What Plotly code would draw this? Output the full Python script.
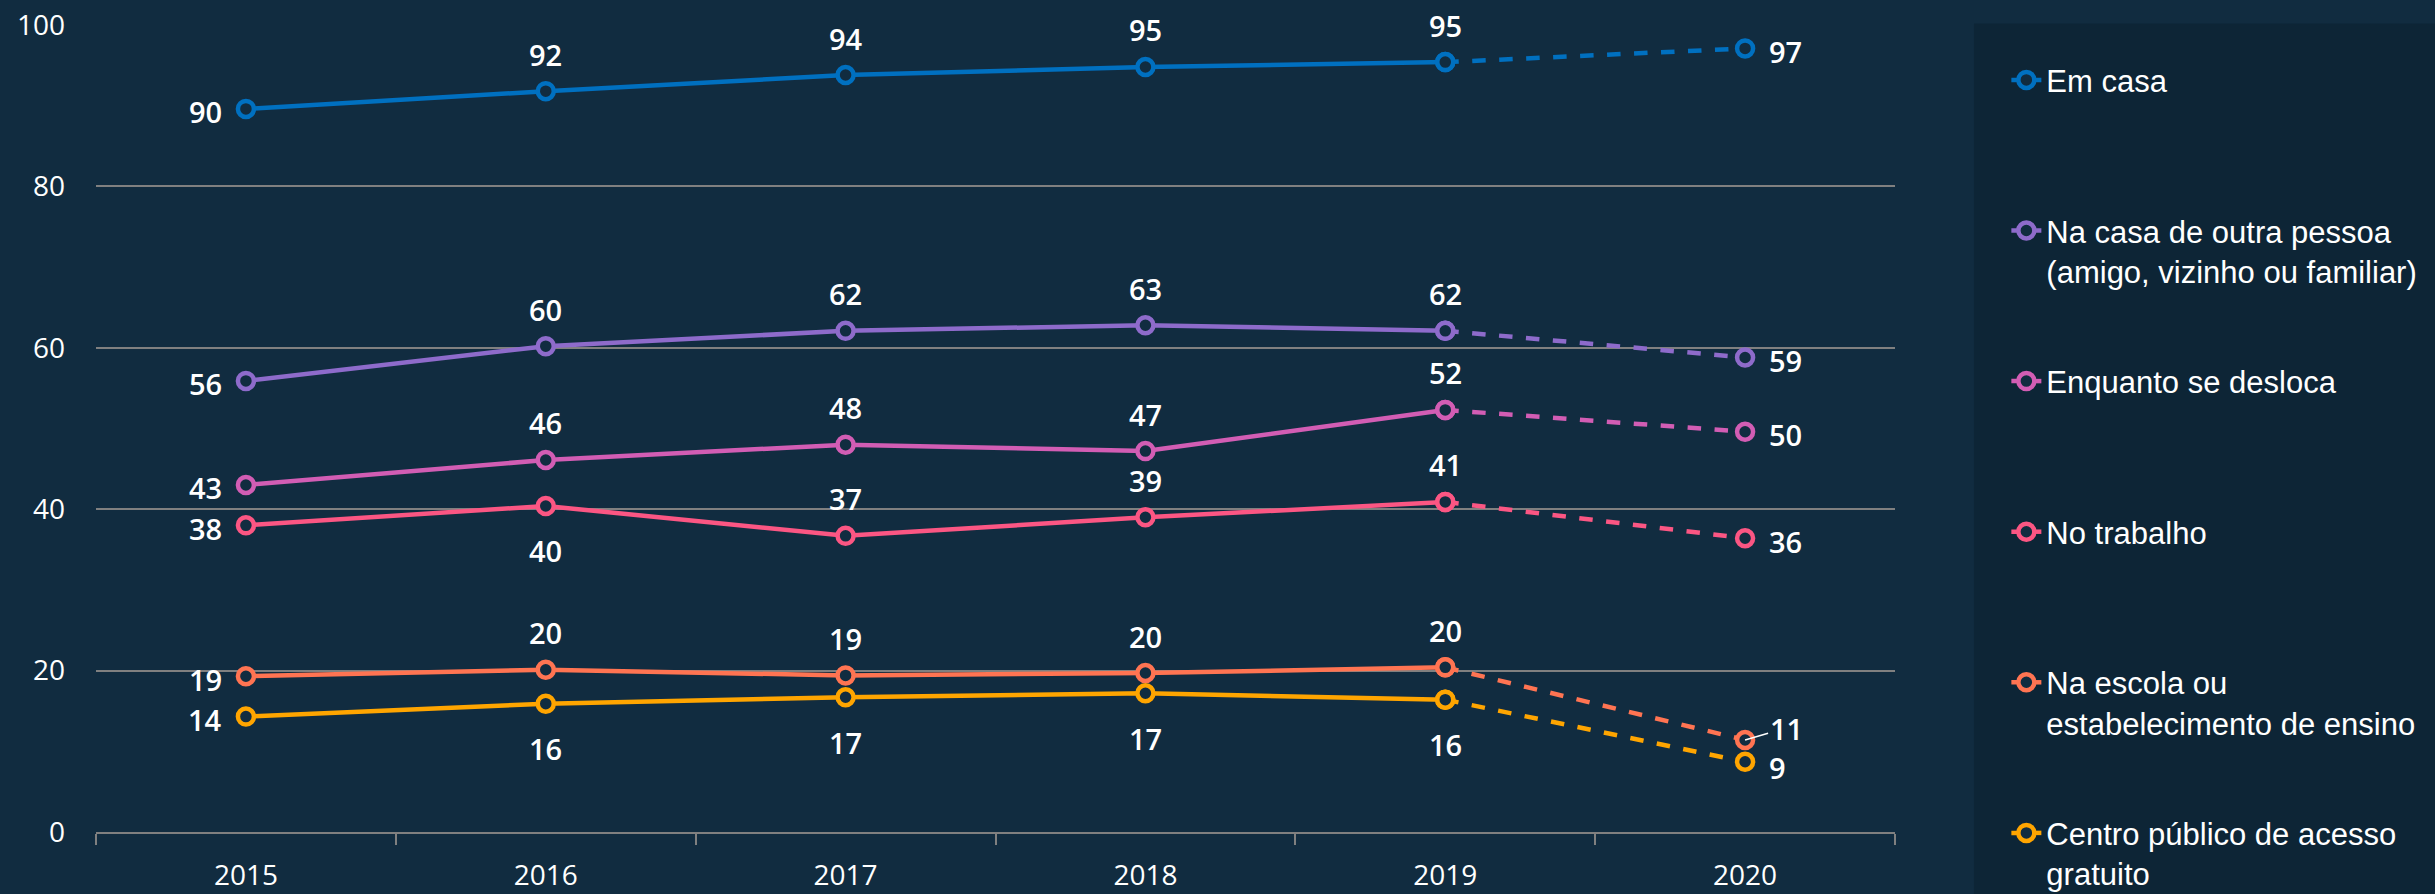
import plotly.graph_objects as go

# ---------------- data ----------------
years = ["2015", "2016", "2017", "2018", "2019", "2020"]

em_casa = [89.6, 91.8, 93.8, 94.8, 95.4, 97.1]
outra_pessoa = [55.9, 60.2, 62.1, 62.8, 62.1, 58.8]
enquanto_desloca = [43.0, 46.1, 48.0, 47.2, 52.3, 49.6]
no_trabalho = [38.0, 40.4, 36.7, 39.0, 40.9, 36.4]
na_escola = [19.3, 20.1, 19.4, 19.7, 20.4, 11.4]
centro_publico = [14.3, 15.9, 16.7, 17.2, 16.4, 8.7]

series_names = [
    "Em casa",
    "Na casa de outra pessoa<br>(amigo, vizinho ou familiar)",
    "Enquanto se desloca",
    "No trabalho",
    "Na escola ou<br>estabelecimento de ensino",
    "Centro público de acesso<br>gratuito",
]
series_values = [em_casa, outra_pessoa, enquanto_desloca, no_trabalho, na_escola, centro_publico]
y_ticks = [0, 20, 40, 60, 80, 100]

# ---------------- style ----------------
colors = ["#0070C0", "#8E6BCB", "#D25DB4", "#FB5683", "#FF7452", "#FFA500"]
label_pos = [
    ["left", "top", "top", "top", "top", "right"],
    ["left", "top", "top", "top", "top", "right"],
    ["left", "top", "top", "top", "top", "right"],
    ["left", "bottom", "top", "top", "top", "right"],
    ["left", "top", "top", "top", "top", "right_leader"],
    ["left", "bottom", "bottom", "bottom", "bottom", "right_low"],
]
BG = "#112c40"
GRID = "#808080"
TXT = "white"
NUM_FONT = "Open Sans, Noto Sans, sans-serif"
LEG_FONT = "Liberation Sans, Arial, sans-serif"

fig = go.Figure()

for i, (name, vals, col) in enumerate(zip(series_names, series_values, colors)):
    legend_name = name if "<br>" in name else name + "<br> "
    marker = dict(size=16, color=BG, line=dict(color=col, width=4.5))
    # solid part (2015-2019)
    fig.add_trace(go.Scatter(
        x=years[:5], y=vals[:5], mode="lines+markers", name=legend_name,
        legendgroup=f"g{i}", line=dict(color=col, width=4.5), marker=marker,
        hoverinfo="skip"))
    # dashed part (2019-2020)
    fig.add_trace(go.Scatter(
        x=years[4:], y=vals[4:], mode="lines+markers", showlegend=False,
        legendgroup=f"g{i}", line=dict(color=col, width=4.5, dash="dash"), marker=marker,
        hoverinfo="skip"))

annotations = []
for vals, poss in zip(series_values, label_pos):
    for xi, (v, p) in enumerate(zip(vals, poss)):
        a = dict(x=xi, y=v, xref="x", yref="y", text=f"{v:.0f}", showarrow=False,
                 font=dict(family=NUM_FONT, size=29, color=TXT, weight=600))
        if p == "top":
            a.update(yshift=37)
        elif p == "bottom":
            a.update(yshift=-45)
        elif p == "left":
            a.update(xanchor="right", xshift=-22, yshift=-3)
        elif p == "right":
            a.update(xanchor="left", xshift=22, yshift=-3)
        elif p == "right_low":
            a.update(xanchor="left", xshift=22, yshift=-6)
        elif p == "right_leader":
            a.update(showarrow=True, axref="pixel", ayref="pixel", ax=41, ay=-12,
                     arrowhead=0, arrowwidth=1.5, arrowcolor=TXT, standoff=0)
        annotations.append(a)

fig.update_layout(
    width=2435, height=894,
    margin=dict(l=96, r=540, t=25, b=62, autoexpand=False),
    paper_bgcolor=BG, plot_bgcolor=BG,
    annotations=annotations,
    showlegend=True,
    legend=dict(
        x=1.0619, xanchor="left", y=0.965, yanchor="top",
        bgcolor="rgba(0,0,0,0)", borderwidth=0,
        font=dict(family=LEG_FONT, size=31, color=TXT),
        tracegroupgap=67, valign="top", itemwidth=30, maxheight=1200,
    ),
    shapes=[dict(type="rect", xref="paper", yref="paper",
                 x0=1.0439, x1=1.35, y0=-0.2, y1=1.002,
                 fillcolor="#0d2536", line=dict(width=0), layer="below")],
    xaxis=dict(
        type="category", range=[-0.5, 5.5], showgrid=False, zeroline=False,
        showline=True, linecolor=GRID, linewidth=2,
        ticks="outside", tickson="boundaries", ticklen=11, tickwidth=2, tickcolor=GRID,
        tickfont=dict(family=NUM_FONT, size=28, color=TXT), ticklabelstandoff=17,
    ),
    yaxis=dict(
        range=[0, 100], tickvals=y_ticks, showgrid=True, gridcolor=GRID, gridwidth=2,
        zeroline=False, showline=False, ticks="",
        tickfont=dict(family=NUM_FONT, size=28, color=TXT), ticklabelstandoff=30,
    ),
)

fig.write_html("out.html", config={"displayModeBar": False},
               post_script="document.body.style.margin='0';")
